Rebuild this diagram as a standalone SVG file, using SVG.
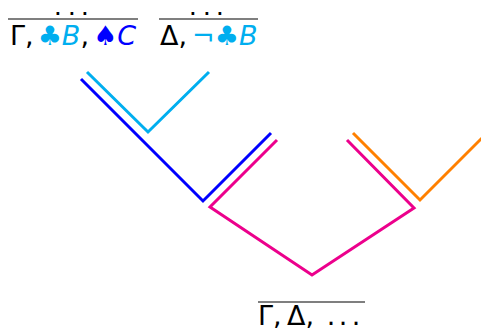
<svg xmlns="http://www.w3.org/2000/svg" width="481" height="332" viewBox="0 0 481 332">
<style>
.t{font-family:"DejaVu Sans",sans-serif;font-size:27px;fill:#000}
.d{font-family:"DejaVu Sans",sans-serif;font-size:15px;font-weight:bold;fill:#000}
.cy{fill:#00aeef}
.bl{fill:#0000ff}
.it{font-style:italic}
.rule{stroke:#000;stroke-width:1.2}
.e{fill:none;stroke-width:3;stroke-linejoin:miter}
</style>
<g id="prem1">
<text class="d" y="15"><tspan x="55">.</tspan><tspan x="69">.</tspan><tspan x="82">.</tspan></text>
<line class="rule" x1="8" y1="19" x2="138" y2="19"/>
<text class="t" x="10" y="45">Γ,<tspan dx="4" class="cy">♣</tspan><tspan class="cy it">B</tspan>,<tspan dx="4" class="bl">♠</tspan><tspan class="bl it">C</tspan></text>
</g>
<g id="prem2">
<text class="d" y="15"><tspan x="190">.</tspan><tspan x="204">.</tspan><tspan x="217">.</tspan></text>
<line class="rule" x1="159" y1="19" x2="258" y2="19"/>
<text class="t" x="160" y="45">Δ,<tspan dx="5" class="cy">¬♣</tspan><tspan class="cy it">B</tspan></text>
</g>
<g id="concl">
<line class="rule" x1="258" y1="302" x2="365" y2="302"/>
<text class="t" x="258" y="325">Γ,<tspan x="287">Δ,</tspan><tspan x="326.7">.</tspan><tspan x="338.7">.</tspan><tspan x="351.7">.</tspan></text>
</g>
<g id="connectors">
<polyline class="e" stroke="#00aeef" points="87,72 148,132 209,72"/>
<polyline class="e" stroke="#0000ff" points="81,79 203,201 271,133"/>
<polyline class="e" stroke="#ec008c" points="277,140 210,207 312,275 414,208 347,140"/>
<polyline class="e" stroke="#ff8000" points="353,133 420,200 487,133"/>
</g>
</svg>
